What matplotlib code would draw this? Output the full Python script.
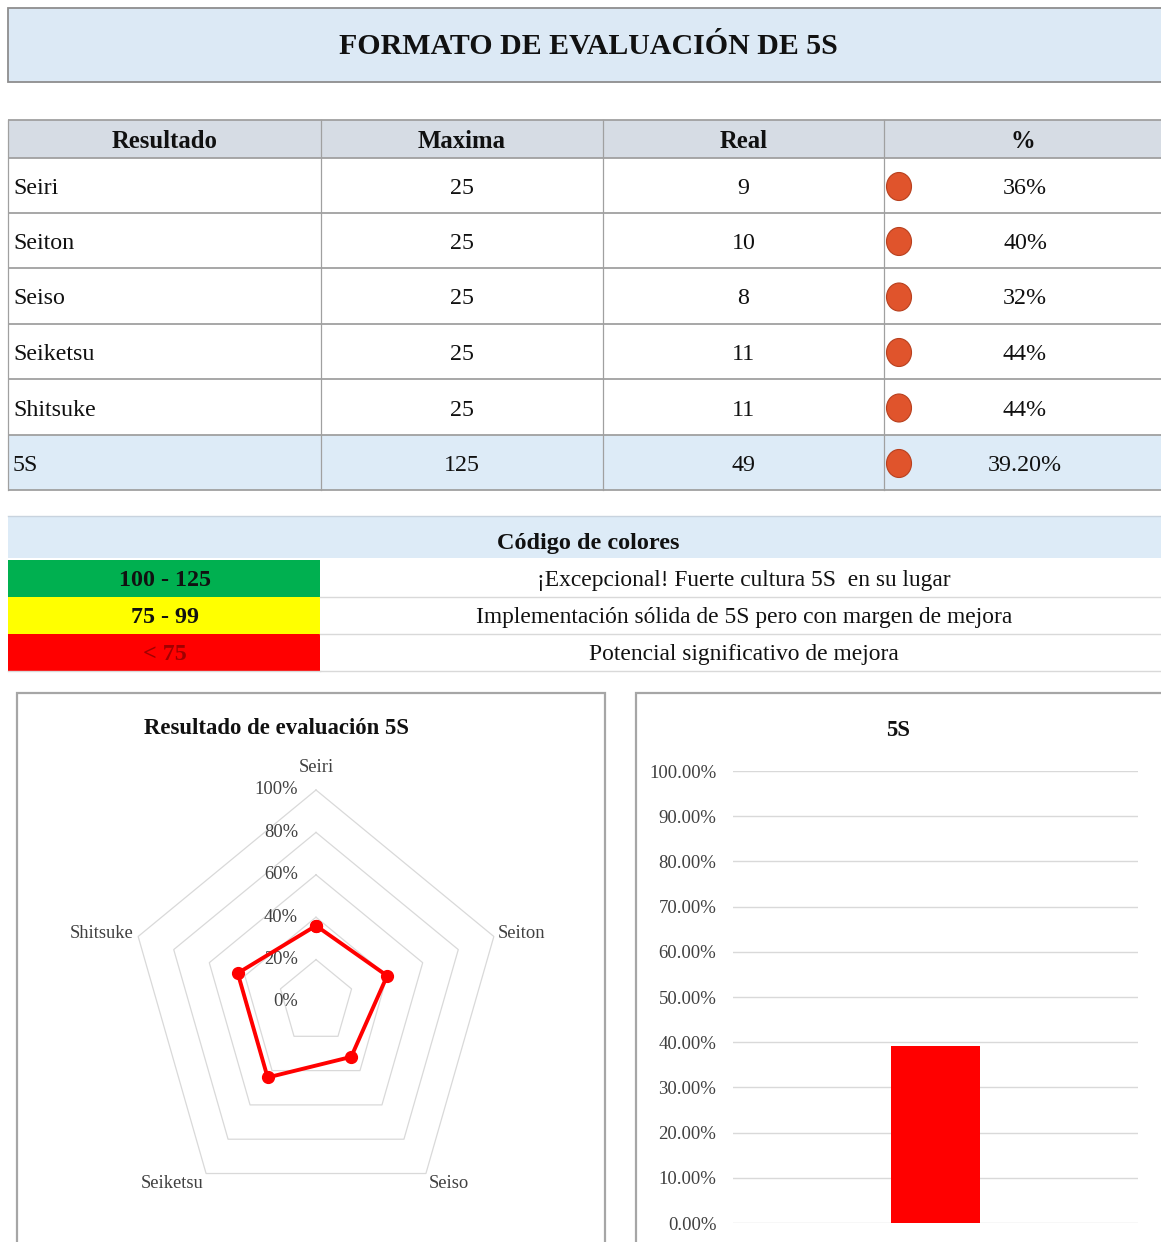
import numpy as np
import matplotlib
matplotlib.use("Agg")
import matplotlib.pyplot as plt
from matplotlib.patches import Rectangle, Ellipse

plt.rcParams["font.family"] = ["Liberation Serif", "DejaVu Serif"]

W, H = 1161, 1242

# evaluation data
categories = ["Seiri", "Seiton", "Seiso", "Seiketsu", "Shitsuke"]
maxima = [25, 25, 25, 25, 25]
real = [9, 10, 8, 11, 11]
total_label = "5S"

headers = ["Resultado", "Maxima", "Real", "%"]

code_ranges = ["100 - 125", "75 - 99", "< 75"]
code_desc = ["¡Excepcional! Fuerte cultura 5S  en su lugar",
             "Implementación sólida de 5S pero con margen de mejora",
             "Potencial significativo de mejora"]
code_fill = ["#00B050", "#FFFF00", "#FF0000"]
code_text = ["#111111", "#111111", "#A00000"]

radar_ticks = [0, 0.2, 0.4, 0.6, 0.8, 1.0]
bar_ticks = [0, 0.1, 0.2, 0.3, 0.4, 0.5, 0.6, 0.7, 0.8, 0.9, 1.0]

pct = [r / m for r, m in zip(real, maxima)]
total_max = sum(maxima)
total_real = sum(real)
total_pct = total_real / total_max

LIGHT_BLUE = "#DDEBF7"
HEAD_GRAY = "#D6DCE4"
LINE = "#A0A0A0"
GRID = "#D9D9D9"
DOT = "#E0542C"


def px_axes(fig, x0, y0, x1, y1):
    return fig.add_axes([x0 / W, 1 - y1 / H, (x1 - x0) / W, (y1 - y0) / H])


fig = plt.figure(figsize=(W / 100, H / 100), dpi=100)
fig.patch.set_facecolor("white")

# background layer in pixel coordinates
bg = fig.add_axes([0, 0, 1, 1])
bg.set_xlim(0, W)
bg.set_ylim(H, 0)
bg.axis("off")

# title banner
bg.add_patch(Rectangle((8, 8), 1170, 74, facecolor="#DCE9F5", edgecolor="#8E8E8E", lw=1.3))
bg.text(588, 47, "FORMATO DE EVALUACIÓN DE 5S", ha="center", va="center",
        fontsize=21.5, fontweight="bold", color="#111111")

# results table
col_x = [8, 321, 603, 884, 1175]
row_y = [120, 158, 213, 268, 324, 379, 435, 490]
bg.add_patch(Rectangle((8, row_y[0]), 1170, row_y[1] - row_y[0], facecolor=HEAD_GRAY, lw=0))
bg.add_patch(Rectangle((8, row_y[-2]), 1170, row_y[-1] - row_y[-2], facecolor=LIGHT_BLUE, lw=0))
for y in row_y:
    bg.plot([8, W], [y, y], color=LINE, lw=1.3, solid_capstyle="butt")
for x in col_x[:-1]:
    bg.plot([x, x], [row_y[0], row_y[-1]], color=LINE, lw=0.9)

for i, h in enumerate(headers):
    cx = (col_x[i] + min(col_x[i + 1], W)) / 2
    bg.text(cx, (row_y[0] + row_y[1]) / 2 + 3, h, ha="center", va="center",
            fontsize=17.8, fontweight="bold", color="#111111")

rows = [(c, m, r, f"{p * 100:.0f}%") for c, m, r, p in zip(categories, maxima, real, pct)]
rows.append((total_label, total_max, total_real, f"{total_pct * 100:.2f}%"))
for i, (name, mx, rl, ptxt) in enumerate(rows):
    yc = (row_y[i + 1] + row_y[i + 2]) / 2
    ty = yc + 3
    bg.text(13, ty, name, ha="left", va="center", fontsize=17.3, color="#111111")
    bg.text((col_x[1] + col_x[2]) / 2, ty, str(mx), ha="center", va="center",
            fontsize=17.3, color="#111111")
    bg.text((col_x[2] + col_x[3]) / 2, ty, str(rl), ha="center", va="center",
            fontsize=17.3, color="#111111")
    bg.add_patch(Ellipse((899, yc + 1), 25, 28, facecolor=DOT, edgecolor="#B8401E", lw=0.8))
    bg.text(1025, ty, ptxt, ha="center", va="center", fontsize=17.3, color="#111111")

# colour code legend
bg.add_patch(Rectangle((8, 516), 1170, 42, facecolor=LIGHT_BLUE, lw=0))
bg.plot([8, W], [516, 516], color="#C8D3DE", lw=1)
bg.text(588, 543, "Código de colores", ha="center", va="center",
        fontsize=17.5, fontweight="bold", color="#111111")
code_y = [560, 597, 634, 671]
for i in range(len(code_ranges)):
    y0, y1 = code_y[i], code_y[i + 1]
    yc = (y0 + y1) / 2
    bg.add_patch(Rectangle((8, y0), 312, y1 - y0, facecolor=code_fill[i], lw=0))
    bg.plot([320, W], [y1, y1], color=GRID, lw=1)
    bg.text(165, yc + 2, code_ranges[i], ha="center", va="center", fontsize=17.3,
            fontweight="bold", color=code_text[i])
    bg.text(744, yc + 2, code_desc[i], ha="center", va="center", fontsize=16.9,
            color="#111111")
bg.plot([8, 320], [code_y[-1], code_y[-1]], color=GRID, lw=1)

# chart frames
bg.add_patch(Rectangle((17, 693), 588, 600, facecolor="white", edgecolor="#A6A6A6", lw=1.6))
bg.add_patch(Rectangle((636, 693), 560, 600, facecolor="white", edgecolor="#A6A6A6", lw=1.6))
bg.text(276, 728, "Resultado de evaluación 5S", ha="center", va="center",
        fontsize=16.4, fontweight="bold", color="#111111")
bg.text(898, 730, "5S", ha="center", va="center", fontsize=16.4, fontweight="bold",
        color="#111111")

# radar chart (horizontal and vertical radii differ)
cx, cy, Rx, Ry = 316, 1002, 187, 212
x0, y0, x1, y1 = 19, 760, 603, 1240
rad = px_axes(fig, x0, y0, x1, y1)
rad.set_xlim(-(cx - x0) / Rx, (x1 - cx) / Rx)
rad.set_ylim(-(y1 - cy) / Ry, (cy - y0) / Ry)
rad.axis("off")
rad.patch.set_alpha(0)

theta = np.pi / 2 - np.arange(len(categories)) * 2 * np.pi / len(categories)
ring_t = np.append(theta, theta[0])
for t in radar_ticks:
    rad.plot(t * np.cos(ring_t), t * np.sin(ring_t), color=GRID, lw=0.9, zorder=1)
    rad.annotate(f"{t * 100:.0f}%", (0, t), xytext=(-13, 0), textcoords="offset points",
                 ha="right", va="center", fontsize=13.3, color="#404040", zorder=2)

vals = np.array(pct + [pct[0]])
rad.plot(vals * np.cos(ring_t), vals * np.sin(ring_t), color="#FF0000", lw=2.8,
         marker="o", markersize=8.5, zorder=3)

for name, t in zip(categories, theta):
    c, s = np.cos(t), np.sin(t)
    ha = "left" if c > 0.2 else ("right" if c < -0.2 else "center")
    if s > 0.9:
        va, off = "bottom", (0, 10)
    elif s < -0.5:
        va, off = "top", (2 * np.sign(c), -1)
    else:
        va, off = "center", (3 * np.sign(c), 2)
    rad.annotate(name, (c, s), xytext=off, textcoords="offset points", ha=ha, va=va,
                 fontsize=13.3, color="#404040")

# bar chart of the overall score
bar = px_axes(fig, 733, 771, 1138, 1223)
bar.patch.set_alpha(0)
bar.bar([0], [total_pct], width=0.222, color="#FF0000", zorder=3)
bar.set_xlim(-0.5, 0.5)
bar.set_ylim(0, 1)
bar.set_yticks(bar_ticks)
bar.set_yticklabels([f"{t * 100:.2f}%" for t in bar_ticks])
bar.yaxis.grid(True, color=GRID, lw=1)
bar.set_axisbelow(True)
bar.set_xticks([])
bar.tick_params(axis="y", length=0, pad=12, labelsize=13.5, labelcolor="#404040")
for s in bar.spines.values():
    s.set_visible(False)

fig.savefig("out.png", dpi=100)
